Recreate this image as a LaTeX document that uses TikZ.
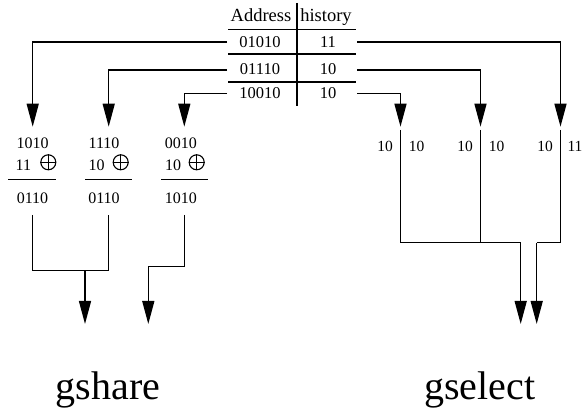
\documentclass[tikz,border=0pt]{standalone}
\usepackage{fontspec}
\setmainfont{Liberation Serif}
\usetikzlibrary{arrows.meta}
\begin{document}
\begin{tikzpicture}[x=1pt,y=-1pt,line width=1.4pt,
  arr/.style={-{Triangle[length=23pt,width=12pt]}},
  hdr/.style={inner sep=0pt,anchor=base,font=\fontsize{18.5}{18.5}\selectfont},
  tab/.style={inner sep=0pt,font=\fontsize{16.5}{16.5}\selectfont},
  num/.style={inner sep=0pt,font=\fontsize{16}{16}\selectfont},
  sel/.style={inner sep=0pt,font=\fontsize{15.5}{15.5}\selectfont},
  big/.style={inner sep=0pt,anchor=base,font=\fontsize{40}{40}\selectfont}]
\useasboundingbox (0,0) rectangle (582,414);
% table
\node[hdr] (hA) at (261,21.7) {Address};
\node[hdr] (hH) at (326,21.7) {history};
\node[tab] (r1a) at (260,42) {01010};
\node[tab] (r1h) at (328,42) {11};
\node[tab] (r2a) at (260,69.5) {01110};
\node[tab] (r2h) at (328,69.5) {10};
\node[tab] (r3a) at (260,93.5) {10010};
\node[tab] (r3h) at (328,93.5) {10};
\draw (297,3) -- (297,106);
\draw (228,29.5) -- (356,29.5);
\draw (228,54) -- (356,54);
\draw (228,82) -- (356,82);
% row ends
\coordinate (L1) at (227,42);
\coordinate (L2) at (227,70);
\coordinate (L3) at (227,93.5);
\coordinate (R1) at (357,42);
\coordinate (R2) at (357,70);
\coordinate (R3) at (357,93.5);
% arrow tips
\coordinate (t1) at (32.7,126.7);
\coordinate (t2) at (108.7,126.7);
\coordinate (t3) at (184.3,126.7);
\coordinate (t4) at (400.5,126.7);
\coordinate (t5) at (480.5,126.7);
\coordinate (t6) at (560.5,126.7);
\draw[arr] (L1) -| (t1);
\draw[arr] (L2) -| (t2);
\draw[arr] (L3) -| (t3);
\draw[arr] (R3) -| (t4);
\draw[arr] (R2) -| (t5);
\draw[arr] (R1) -| (t6);
% gshare columns
\node[num] (g1a) at (32.5,143.3) {1010};
\node[num] (g1b) at (23.3,165) {11};
\node[num] (g1c) at (32.5,198.3) {0110};
\node[num] (g2a) at (104,143.3) {1110};
\node[num] (g2b) at (96.7,165) {10};
\node[num] (g2c) at (104,198.3) {0110};
\node[num] (g3a) at (180.8,143.3) {0010};
\node[num] (g3b) at (173,165) {10};
\node[num] (g3c) at (180.8,198.3) {1010};
\foreach \n/\cx/\la/\lb in {1/48.3/8.3/56, 2/120.7/85/132.3, 3/196.7/161/208}{
  \node[circle,draw,line width=1.1pt,minimum size=15pt,inner sep=0pt] (x\n) at (\cx,162.3) {};
  \draw[line width=1.1pt] (x\n.north) -- (x\n.south) (x\n.west) -- (x\n.east);
  \draw (\la,179.3) -- (\lb,179.3);
}
\coordinate (b1) at (32.7,215);
\coordinate (b2) at (108.7,215);
\coordinate (b3) at (184.3,215);
\coordinate (j12) at (85,270.7);
\coordinate (e1) at (85,324);
\coordinate (j3) at (148.3,266.7);
\coordinate (e2) at (148.3,324);
\draw (b1) |- (j12) -| (b2);
\draw (j12) -- (108.7,270.7);
\draw[arr] (j12) -- (e1);
\draw (b3) |- (j3);
\draw[arr] (j3) -- (e2);
% gselect
\node[sel] (s1a) at (385,146) {10};
\node[sel] (s1b) at (416.7,146) {10};
\node[sel] (s2a) at (465,146) {10};
\node[sel] (s2b) at (496.7,146) {10};
\node[sel] (s3a) at (545,146) {10};
\node[sel] (s3b) at (575,146) {11};
\coordinate (v1) at (400.5,130);
\coordinate (v2) at (480.5,130);
\coordinate (v3) at (560.5,130);
\coordinate (k1) at (520.7,242.7);
\coordinate (k2) at (536.7,242.7);
\coordinate (f1) at (520.7,324);
\coordinate (f2) at (536.7,324);
\draw (v1) |- (k1);
\draw (v2) -- (480.5,242.7);
\draw (v3) |- (k2);
\draw[arr] (k1) -- (f1);
\draw[arr] (k2) -- (f2);
% labels
\node[big] (gs) at (108,400) {gshare};
\node[big] (gl) at (479.7,400) {gselect};
\end{tikzpicture}
\end{document}
